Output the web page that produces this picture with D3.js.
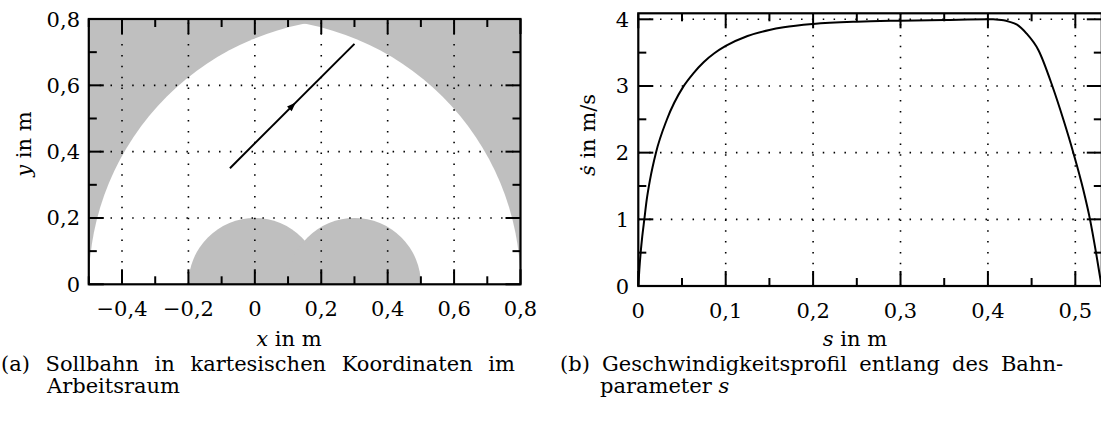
<!DOCTYPE html>
<html>
<head>
<meta charset="utf-8">
<style>
  body { margin: 0; background: #fff; }
  svg { display: block; }
  svg text { font-family: "DejaVu Serif", serif; fill: #000; }
</style>
</head>
<body>
<div id="chart"></div>
<script src="https://cdn.jsdelivr.net/npm/d3@7"></script>
<script>
// ---- data ----
var armBasesX = [0, 0.3];          // centres of the workspace circles (y = 0)
var reachOuter = 0.8, reachInner = 0.2;
var pathStart = [-0.075, 0.35], pathEnd = [0.3, 0.725];

var xTicksA = [-0.4, -0.2, 0, 0.2, 0.4, 0.6, 0.8];
var yTicksA = [0, 0.2, 0.4, 0.6, 0.8];
var xTicksB = [0, 0.1, 0.2, 0.3, 0.4, 0.5];
var yTicksB = [0, 1, 2, 3, 4];

var sVals = [0, 0.0012, 0.0027, 0.0045, 0.0069, 0.0096, 0.0135, 0.0202, 0.0325, 0.0515, 0.063, 0.075, 0.087, 0.1, 0.125, 0.15, 0.1663,
             0.2, 0.25, 0.3, 0.35, 0.4, 0.406, 0.412, 0.418, 0.424, 0.4333, 0.444, 0.4577, 0.4737, 0.4865, 0.4977, 0.5092,
             0.5168, 0.5237, 0.53];
var vVals = [0, 0.25, 0.5, 0.74, 1.0, 1.29, 1.6, 2.0, 2.49, 2.99, 3.19, 3.36, 3.49, 3.6, 3.75, 3.84, 3.88,
             3.93, 3.965, 3.98, 3.99, 4.0, 4.0, 3.995, 3.985, 3.965, 3.92, 3.79, 3.54, 3.0, 2.49, 2.0, 1.44,
             1.0, 0.5, 0];

var W = 1101, H = 426, FS = 21;
var svg = d3.select('#chart').append('svg').attr('width', W).attr('height', H);

var fmt = function(d){
  if (Math.abs(d) < 1e-9) return '0';
  return d3.format('.1f')(d).replace('.', ',').replace('-', '\u2212');
};
var dotted = '1.5,9.35';

function grid(g, x, y, xMajor, yMajor){
  var x0 = x.range()[0], x1 = x.range()[1], y0 = y.range()[0], y1 = y.range()[1];
  g.selectAll('.gx').data(xMajor.filter(function(d){ return x(d) > x0 + 1 && x(d) < x1 - 1; })).enter().append('line')
    .attr('x1', function(d){ return x(d); }).attr('x2', function(d){ return x(d); })
    .attr('y1', y0).attr('y2', y1)
    .attr('stroke', '#000').attr('stroke-width', 1.6).attr('stroke-dasharray', dotted);
  g.selectAll('.gy').data(yMajor.filter(function(d){ return y(d) < y0 - 1 && y(d) > y1 + 1; })).enter().append('line')
    .attr('y1', function(d){ return y(d); }).attr('y2', function(d){ return y(d); })
    .attr('x1', x0).attr('x2', x1)
    .attr('stroke', '#000').attr('stroke-width', 1.6).attr('stroke-dasharray', dotted);
}

function ticks(g, x, y, xMinor, yMinor, xMajor, yMajor){
  var x0 = x.range()[0], x1 = x.range()[1], y0 = y.range()[0], y1 = y.range()[1];
  var big = 15, small = 8;
  var all = [];
  xMajor.forEach(function(d){ all.push({x: x(d), len: big, dir: 'x'}); });
  xMinor.forEach(function(d){ all.push({x: x(d), len: small, dir: 'x'}); });
  yMajor.forEach(function(d){ all.push({y: y(d), len: big, dir: 'y'}); });
  yMinor.forEach(function(d){ all.push({y: y(d), len: small, dir: 'y'}); });
  all.forEach(function(t){
    if (t.dir === 'x') {
      g.append('line').attr('x1', t.x).attr('x2', t.x).attr('y1', y0).attr('y2', y0 - t.len);
      g.append('line').attr('x1', t.x).attr('x2', t.x).attr('y1', y1).attr('y2', y1 + t.len);
    } else {
      g.append('line').attr('y1', t.y).attr('y2', t.y).attr('x1', x0).attr('x2', x0 + t.len);
      g.append('line').attr('y1', t.y).attr('y2', t.y).attr('x1', x1).attr('x2', x1 - t.len);
    }
  });
  g.selectAll('line').attr('stroke', '#000').attr('stroke-width', 2);
  g.append('rect').attr('x', x0).attr('y', y1).attr('width', x1 - x0).attr('height', y0 - y1)
    .attr('fill', 'none').attr('stroke', '#000').attr('stroke-width', 2.2);
}

function justify(t, width){
  var gaps = t.text().split(' ').length - 1;
  var w = t.node().getComputedTextLength();
  if (gaps > 0) t.attr('word-spacing', (width - w) / gaps);
}

// ---- (a) workspace ----
var xa = d3.scaleLinear().domain([-0.5, 0.8]).range([88.8, 520.5]);
var ya = d3.scaleLinear().domain([0, 0.8]).range([284.3, 19]);
var ga = svg.append('g');

svg.append('clipPath').attr('id', 'clipA').append('rect')
  .attr('x', xa(-0.5)).attr('y', ya(0.8)).attr('width', xa(0.8) - xa(-0.5)).attr('height', ya(0) - ya(0.8));
svg.append('clipPath').attr('id', 'clipOuter').append('ellipse')
  .attr('cx', xa(armBasesX[0])).attr('cy', ya(0))
  .attr('rx', xa(reachOuter) - xa(0)).attr('ry', ya(0) - ya(reachOuter));

var ws = ga.append('g').attr('clip-path', 'url(#clipA)');
ws.append('rect').attr('x', xa(-0.5)).attr('y', ya(0.8)).attr('width', xa(0.8) - xa(-0.5)).attr('height', ya(0) - ya(0.8))
  .attr('fill', '#bfbfbf');
ws.append('g').attr('clip-path', 'url(#clipOuter)').append('ellipse')
  .attr('cx', xa(armBasesX[1])).attr('cy', ya(0))
  .attr('rx', xa(reachOuter) - xa(0)).attr('ry', ya(0) - ya(reachOuter))
  .attr('fill', '#fff');
ws.selectAll('.inner').data(armBasesX).enter().append('ellipse')
  .attr('cx', function(d){ return xa(d); }).attr('cy', ya(0))
  .attr('rx', xa(reachInner) - xa(0)).attr('ry', ya(0) - ya(reachInner))
  .attr('fill', '#bfbfbf');

var xMinorA = [-0.5, -0.3, -0.1, 0.1, 0.3, 0.5, 0.7];
var yMinorA = [0.1, 0.3, 0.5, 0.7];
grid(ga, xa, ya, xTicksA, yTicksA);

// trajectory with arrow in the middle
ga.append('line')
  .attr('x1', xa(pathStart[0])).attr('y1', ya(pathStart[1]))
  .attr('x2', xa(pathEnd[0])).attr('y2', ya(pathEnd[1]))
  .attr('stroke', '#000').attr('stroke-width', 2);
var mx = xa((pathStart[0] + pathEnd[0]) / 2), my = ya((pathStart[1] + pathEnd[1]) / 2);
var ang = Math.atan2(xa(pathEnd[0]) - xa(pathStart[0]), -(ya(pathEnd[1]) - ya(pathStart[1]))) * 180 / Math.PI;
ga.append('path').attr('d', 'M0,-5L3.3,4L-3.3,4Z')
  .attr('transform', 'translate(' + mx + ',' + my + ') rotate(' + ang + ')')
  .attr('fill', '#000');

ticks(ga.append('g'), xa, ya, xMinorA, yMinorA, xTicksA, yTicksA);

ga.selectAll('.xl').data(xTicksA).enter().append('text')
  .attr('x', function(d){ return xa(d); }).attr('y', 316)
  .attr('text-anchor', 'middle').attr('font-size', FS).text(fmt);
ga.selectAll('.yl').data(yTicksA).enter().append('text')
  .attr('x', 80).attr('y', function(d){ return ya(d) + 7.5; })
  .attr('text-anchor', 'end').attr('font-size', FS).text(fmt);

var xlab = ga.append('text').attr('x', 289).attr('y', 346).attr('text-anchor', 'middle').attr('font-size', FS);
xlab.append('tspan').attr('font-style', 'italic').text('x');
xlab.append('tspan').text(' in m');
var ylab = ga.append('text').attr('transform', 'translate(31,144) rotate(-90)').attr('text-anchor', 'middle').attr('font-size', FS);
ylab.append('tspan').attr('font-style', 'italic').text('y');
ylab.append('tspan').text(' in m');

justify(ga.append('text').attr('x', 1).attr('y', 371).attr('font-size', FS)
  .text('(a) Sollbahn in kartesischen Koordinaten im'), 514);
ga.append('text').attr('x', 47).attr('y', 393).attr('font-size', FS).text('Arbeitsraum');

// ---- (b) velocity profile ----
var xb = d3.scaleLinear().domain([0, 0.5303]).range([638.3, 1101.8]);
var yb = d3.scaleLinear().domain([0, 4.09]).range([286, 13.3]);
var gb = svg.append('g');
var xMinorB = [0.05, 0.15, 0.25, 0.35, 0.45];
var yMinorB = [0.5, 1.5, 2.5, 3.5];
grid(gb, xb, yb, xTicksB, yTicksB);

var prof = sVals.map(function(s, i){ return [s, vVals[i]]; });
gb.append('path').datum(prof)
  .attr('d', d3.line().x(function(d){ return xb(d[0]); }).y(function(d){ return yb(d[1]); }).curve(d3.curveMonotoneX))
  .attr('fill', 'none').attr('stroke', '#000').attr('stroke-width', 2);

ticks(gb.append('g'), xb, yb, xMinorB, yMinorB, xTicksB, yTicksB);

gb.selectAll('.xl').data(xTicksB).enter().append('text')
  .attr('x', function(d){ return xb(d); }).attr('y', 318)
  .attr('text-anchor', 'middle').attr('font-size', FS).text(fmt);
gb.selectAll('.yl').data(yTicksB).enter().append('text')
  .attr('x', 629).attr('y', function(d){ return yb(d) + 7.5; })
  .attr('text-anchor', 'end').attr('font-size', FS).text(function(d){ return String(d); });

var slab = gb.append('text').attr('x', 855).attr('y', 346).attr('text-anchor', 'middle').attr('font-size', FS);
slab.append('tspan').attr('font-style', 'italic').text('s');
slab.append('tspan').text(' in m');
var vlab = gb.append('text').attr('transform', 'translate(595,135) rotate(-90)').attr('text-anchor', 'middle').attr('font-size', FS);
vlab.append('tspan').attr('font-style', 'italic').text('\u1E61');
vlab.append('tspan').text(' in m/s');

justify(gb.append('text').attr('x', 560).attr('y', 371).attr('font-size', FS)
  .text('(b) Geschwindigkeitsprofil entlang des Bahn-'), 503);
var cap2 = gb.append('text').attr('x', 600).attr('y', 393).attr('font-size', FS);
cap2.append('tspan').text('parameter ');
cap2.append('tspan').attr('font-style', 'italic').text('s');
</script>
</body>
</html>
